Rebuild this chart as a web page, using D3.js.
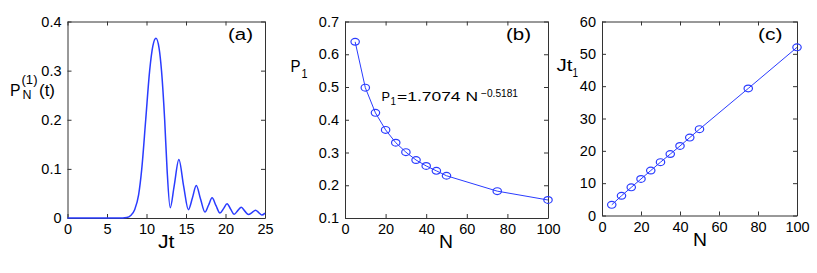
<!DOCTYPE html>
<html>
<head>
<meta charset="utf-8">
<script src="https://cdn.jsdelivr.net/npm/d3@7"></script>
<style>
  html, body { margin: 0; padding: 0; background: #fff; }
  svg { display: block; font-family: "Liberation Sans", Arial, Helvetica, sans-serif; }
</style>
</head>
<body>
<svg id="chart" width="817" height="273"></svg>
<script>
// ---------- data ----------
// panel (a): P_N^(1)(t) vs Jt
const jt = [0, 7, 7.5, 8, 8.5, 9, 9.4, 9.9, 10.4, 10.8, 11.2, 11.6, 11.9, 12.3, 12.6, 13.0, 13.5, 14.1, 14.7, 15.3, 15.8, 16.3, 16.85, 17.4, 17.85, 18.3, 18.8, 19.3, 19.75, 20.2, 20.65, 21.1, 21.55, 22.0, 22.45, 22.9, 23.35, 23.8, 24.2, 24.6, 25];
const pN = [0, 0, 0.0008, 0.005, 0.017, 0.047, 0.1, 0.2, 0.3, 0.35, 0.366, 0.345, 0.3, 0.2, 0.1, 0.021, 0.065, 0.119, 0.065, 0.017, 0.04, 0.066, 0.038, 0.012, 0.026, 0.041, 0.025, 0.010, 0.019, 0.029, 0.018, 0.0075, 0.015, 0.022, 0.014, 0.007, 0.011, 0.016, 0.011, 0.006, 0.010];
// panels (b) and (c)
const nVals = [5, 10, 15, 20, 25, 30, 35, 40, 45, 50, 75, 100];
const p1 = [0.638, 0.498, 0.421, 0.369, 0.330, 0.301, 0.277, 0.259, 0.244, 0.229, 0.182, 0.155];
const jt1 = [3.3, 6.1, 8.7, 11.3, 13.9, 16.5, 19.0, 21.5, 24.1, 26.7, 39.3, 52.0];
// tick values
const aXTicks = [0, 5, 10, 15, 20, 25];
const aYTicks = [0, 0.1, 0.2, 0.3, 0.4];
const bXTicks = [0, 20, 40, 60, 80, 100];
const bYTicks = [0.1, 0.2, 0.3, 0.4, 0.5, 0.6, 0.7];
const cXTicks = [0, 20, 40, 60, 80, 100];
const cYTicks = [0, 10, 20, 30, 40, 50, 60];

// ---------- drawing ----------
const svg = d3.select("#chart");
const BLUE = "#2a3cff";
const FRAME = "#333";

function panel(opt) {
  const x = d3.scaleLinear().domain(opt.xDom).range([opt.l, opt.r]);
  const y = d3.scaleLinear().domain(opt.yDom).range([opt.b, opt.t]);
  const g = svg.append("g");
  const fmt = d => String(d);
  const mk = (axis, ticks, showLabels) => axis.tickValues(ticks).tickSizeInner(-4).tickSizeOuter(0)
      .tickPadding(6).tickFormat(showLabels ? fmt : "");
  const styleAxis = sel => {
    sel.selectAll("path").attr("stroke", FRAME).attr("stroke-width", 1);
    sel.selectAll("line").attr("stroke", FRAME).attr("stroke-width", 1);
    sel.selectAll("text").attr("fill", "#000").style("font-size", "14.5px")
       .style("font-family", '"Liberation Sans", Arial, Helvetica, sans-serif');
  };
  g.append("g").attr("transform", `translate(0,${opt.b})`).call(mk(d3.axisBottom(x), opt.xTicks, true)).call(styleAxis);
  g.append("g").attr("transform", `translate(0,${opt.t})`).call(mk(d3.axisTop(x), opt.xTicks, false)).call(styleAxis);
  g.append("g").attr("transform", `translate(${opt.l},0)`).call(mk(d3.axisLeft(y), opt.yTicks, true)).call(styleAxis);
  g.append("g").attr("transform", `translate(${opt.r},0)`).call(mk(d3.axisRight(y), opt.yTicks, false)).call(styleAxis);
  g.selectAll(".domain").attr("fill", "none");
  return { g, x, y };
}

function label(g, x, y, size, txt, len) {
  const t = g.append("text").attr("x", x).attr("y", y).style("font-size", size + "px").text(txt);
  if (len) t.attr("textLength", len).attr("lengthAdjust", "spacingAndGlyphs");
  return t;
}

// ----- panel (a)
{
  const p = panel({ l: 67.5, r: 265, t: 21.5, b: 218, xDom: [0, 25], yDom: [0, 0.4], xTicks: aXTicks, yTicks: aYTicks });
  const pts = jt.map((t, i) => [t, pN[i]]);
  const line = d3.line().x(d => p.x(d[0])).y(d => p.y(d[1])).curve(d3.curveMonotoneX);
  p.g.append("path").attr("d", line(pts)).attr("fill", "none").attr("stroke", BLUE).attr("stroke-width", 1.5);
  label(p.g, 228, 39.5, 16, "(a)", 25);
  label(p.g, 158, 248, 19, "Jt", 16.5);
  // y label P_N^(1)(t)
  label(p.g, 10, 96, 16, "P", 10.5);
  label(p.g, 22.5, 99, 12, "N", 9);
  label(p.g, 21.5, 84, 12, "(1)", 16);
  label(p.g, 39, 96, 16, "(t)", 16);
}

// ----- panel (b)
{
  const p = panel({ l: 345, r: 548, t: 21.5, b: 218, xDom: [0, 100], yDom: [0.1, 0.7], xTicks: bXTicks, yTicks: bYTicks });
  const pts = nVals.map((n, i) => [n, p1[i]]);
  const line = d3.line().x(d => p.x(d[0])).y(d => p.y(d[1]));
  p.g.append("path").attr("d", line(pts)).attr("fill", "none").attr("stroke", BLUE).attr("stroke-width", 1);
  p.g.selectAll("ellipse").data(pts).join("ellipse")
    .attr("cx", d => p.x(d[0])).attr("cy", d => p.y(d[1])).attr("rx", 4.2).attr("ry", 3.4)
    .attr("fill", "none").attr("stroke", BLUE).attr("stroke-width", 1.2);
  label(p.g, 506, 39.5, 16, "(b)", 25);
  label(p.g, 439, 248, 19, "N", 14);
  label(p.g, 290.5, 71.5, 16, "P", 10);
  label(p.g, 301.5, 77.5, 12, "1", 6);
  // annotation
  label(p.g, 381.5, 101, 13, "P", 8.5);
  label(p.g, 390.5, 105, 10, "1", 5.5);
  label(p.g, 397, 101, 13, "=1.7074 N", 81);
  label(p.g, 481, 97, 10, "\u22120.5181", 37);
}

// ----- panel (c)
{
  const p = panel({ l: 602, r: 797, t: 21.5, b: 215.5, xDom: [0, 100], yDom: [0, 60], xTicks: cXTicks, yTicks: cYTicks });
  const pts = nVals.map((n, i) => [n, jt1[i]]);
  const line = d3.line().x(d => p.x(d[0])).y(d => p.y(d[1]));
  p.g.append("path").attr("d", line(pts)).attr("fill", "none").attr("stroke", BLUE).attr("stroke-width", 1);
  p.g.selectAll("ellipse").data(pts).join("ellipse")
    .attr("cx", d => p.x(d[0])).attr("cy", d => p.y(d[1])).attr("rx", 4.2).attr("ry", 3.4)
    .attr("fill", "none").attr("stroke", BLUE).attr("stroke-width", 1.2);
  label(p.g, 758, 39.5, 16, "(c)", 24.5);
  label(p.g, 693, 246, 19, "N", 14);
  label(p.g, 556.5, 71, 16, "Jt", 16);
  label(p.g, 572.5, 77, 12, "1", 5.5);
}
</script>
</body>
</html>
